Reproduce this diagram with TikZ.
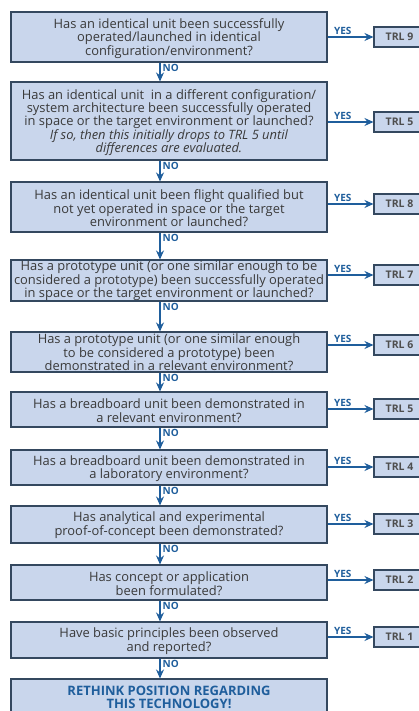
\documentclass[tikz,border=0pt]{standalone}
\usepackage{fontspec}
\setmainfont{Open Sans}
\usetikzlibrary{arrows.meta}
\definecolor{boxfill}{HTML}{C9D6EC}
\definecolor{boxline}{HTML}{34485F}
\definecolor{txt}{HTML}{3A3A3A}
\definecolor{flowblue}{HTML}{1F5E9C}
\begin{document}
\begin{tikzpicture}[x=1pt,y=-1pt,
  qbox/.style={draw=boxline, fill=boxfill, line width=1.1pt, minimum width=316pt,
    inner sep=0pt},
  qtext/.style={inner sep=0pt, align=center, text=txt,
    font=\fontsize{12.9}{13.4}\selectfont},
  trlbox/.style={draw=boxline, fill=boxfill, line width=1.1pt, minimum width=51pt,
    minimum height=20pt, inner sep=0pt, text=txt!90, font=\fontsize{10.5}{12}\selectfont\bfseries},
  yesarrow/.style={draw=flowblue, line width=1.2pt, -{Stealth[length=9pt,width=8pt,inset=3pt]}},
  noarrow/.style={draw=flowblue, line width=1.2pt, -{Stealth[length=9pt,width=8pt,inset=3pt]}},
  flowlbl/.style={text=flowblue, font=\fontsize{10}{11}\selectfont\bfseries, inner sep=0pt}]
\useasboundingbox (0,0) rectangle (419,711);
\begin{scope}
\clip (0,0) rectangle (419,711);

% question boxes (frame first, wording set slightly below the middle)
\foreach \n/\y/\h in {1/37/50, 2/121/78, 3/207/50, 4/280.5/41, 5/352/40, 6/409.5/35,
                      7/467.5/35, 8/524.5/37, 9/582.5/35, 10/640/36, 11/697.5/37}{
  \node[qbox, minimum height=\h pt] (q\n) at (169,\y) {};
}
\node[qtext] (q1t) at ([yshift=-1.5pt]q1)
  {Has an identical unit been successfully\\operated/launched in identical\\configuration/environment?};
\node[qtext] (q2t) at ([yshift=-1.5pt]q2)
  {Has an identical unit\ \ in a different configuration/\\system architecture been successfully operated\\in space or the target environment or launched?\\
   \textit{If so, then this initially drops to TRL 5 until}\\\textit{differences are evaluated.}};
\node[qtext] (q3t) at ([yshift=-1.5pt]q3)
  {Has an identical unit been flight qualified but\\not yet operated in space or the target\\environment or launched?};
\node[qtext] (q4t) at ([yshift=-0.5pt]q4)
  {Has a prototype unit (or one similar enough to be\\considered a prototype) been successfully operated\\in space or the target environment or launched?};
\node[qtext] (q5t) at ([yshift=-0.3pt]q5)
  {Has a prototype unit (or one similar enough\\to be considered a prototype) been\\demonstrated in a relevant environment?};
\node[qtext] (q6t) at ([yshift=-1.2pt]q6)
  {Has a breadboard unit been demonstrated in\\a relevant environment?};
\node[qtext] (q7t) at ([yshift=-1.2pt]q7)
  {Has a breadboard unit been demonstrated in\\a laboratory environment?};
\node[qtext] (q8t) at ([yshift=-0.5pt]q8)
  {Has analytical and experimental\\proof-of-concept been demonstrated?};
\node[qtext] (q9t) at ([yshift=-1.2pt]q9)
  {Has concept or application\\been formulated?};
\node[qtext] (q10t) at ([yshift=-1.2pt]q10)
  {Have basic principles been observed\\and reported?};
\node[qtext, text=flowblue, font=\fontsize{13}{13.4}\selectfont\bfseries] (q11t) at (q11)
  {RETHINK POSITION REGARDING\\THIS TECHNOLOGY!};

% readiness levels
\foreach \n/\y/\lvl in {1/37/9, 2/122/5, 3/204/8, 4/275/7, 5/345/6,
                        6/409/5, 7/467/4, 8/524/3, 9/580/2, 10/637/1}{
  \node[trlbox] (t\n) at (399.5,\y) {TRL \lvl};
  \draw[yesarrow] (q\n.east |- t\n) -- node[flowlbl, pos=0.33, anchor=south, yshift=2pt] (y\n) {YES} (t\n.west);
}

% "no" branches
\foreach \a/\b in {1/2, 2/3, 3/4, 4/5, 5/6, 6/7, 7/8, 8/9, 9/10, 10/11}{
  \coordinate (s\a) at ([xshift=-9pt]q\a.south);
  \coordinate (e\a) at ([xshift=-9pt]q\b.north);
  \draw[noarrow] (s\a) -- (e\a);
  \node[flowlbl, anchor=north west] (n\a) at ([xshift=2.5pt,yshift=-1.5pt]s\a) {NO};
}
\end{scope}
\end{tikzpicture}
\end{document}
